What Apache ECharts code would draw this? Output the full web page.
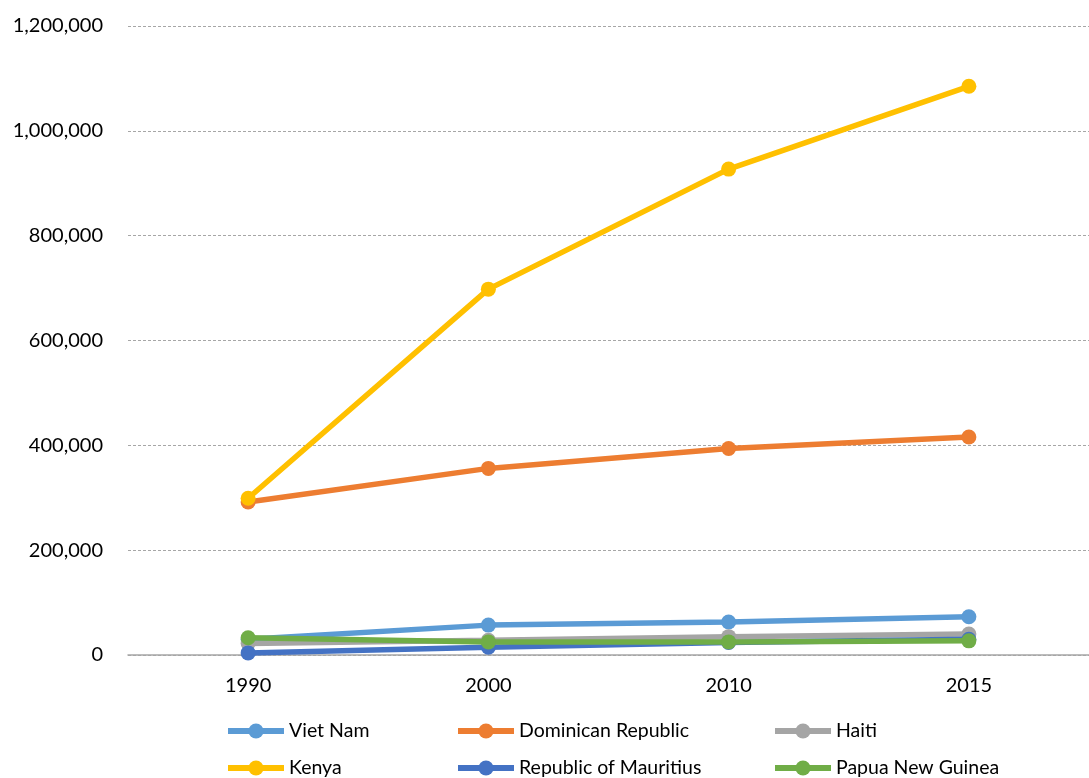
<!DOCTYPE html>
<html><head><meta charset="utf-8">
<script src="https://cdn.jsdelivr.net/npm/echarts@6/dist/echarts.min.js"></script>
<style>html,body{margin:0;padding:0;background:#fff}#c{width:1089px;height:778px}</style>
</head><body><div id="c"></div>
<script>
const years = ['1990', '2000', '2010', '2015'];
const vietNam = [30000, 57000, 63000, 73000];
const dominicanRepublic = [292000, 356000, 394000, 416000];
const haiti = [22000, 28000, 35000, 40000];
const kenya = [299000, 698000, 927000, 1085000];
const mauritius = [4000, 15000, 24000, 30000];
const papuaNewGuinea = [33000, 25000, 25000, 27000];
const yTicks = [0, 200000, 400000, 600000, 800000, 1000000, 1200000];

const names = ['Viet Nam', 'Dominican Republic', 'Haiti', 'Kenya', 'Republic of Mauritius', 'Papua New Guinea'];
const colors = ['#5b9bd5', '#ed7d31', '#a5a5a5', '#ffc000', '#4472c4', '#70ad47'];
const datas = [vietNam, dominicanRepublic, haiti, kenya, mauritius, papuaNewGuinea];
const legendPos = [[220, 716], [450, 716], [767, 716], [220, 753], [450, 753], [767, 753]];

const chart = echarts.init(document.getElementById('c'), null, {renderer: 'canvas'});
const font = 'Lato, "Open Sans", sans-serif';
chart.setOption({
  animation: false,
  grid: {left: 128, top: 26, width: 968, height: 629, containLabel: false},
  xAxis: {
    type: 'category', data: years, boundaryGap: true,
    axisLine: {lineStyle: {color: '#a6a6a6', width: 1.5}},
    axisTick: {show: false},
    axisLabel: {color: '#000', fontSize: 20, fontFamily: font, margin: 21}
  },
  yAxis: {
    type: 'value', min: yTicks[0], max: yTicks[yTicks.length - 1], interval: 200000,
    axisLine: {show: false}, axisTick: {show: false},
    splitLine: {lineStyle: {color: '#a6a6a6', type: [3, 2], width: 1}},
    axisLabel: {color: '#000', fontSize: 20, fontFamily: font, margin: 25,
      formatter: v => v.toLocaleString('en-US')}
  },
  legend: names.map((n, i) => ({
    data: [n], left: legendPos[i][0], top: legendPos[i][1],
    itemWidth: 56, itemHeight: 19, itemGap: 8,
    lineStyle: {width: 6},
    textStyle: {color: '#000', fontSize: 19.5, fontFamily: font}
  })),
  series: names.map((n, i) => ({
    name: n, type: 'line', data: datas[i],
    symbol: 'circle', symbolSize: 15,
    lineStyle: {width: 5.5, color: colors[i]},
    itemStyle: {color: colors[i]},
    z: 2 + i
  }))
});
</script></body></html>
